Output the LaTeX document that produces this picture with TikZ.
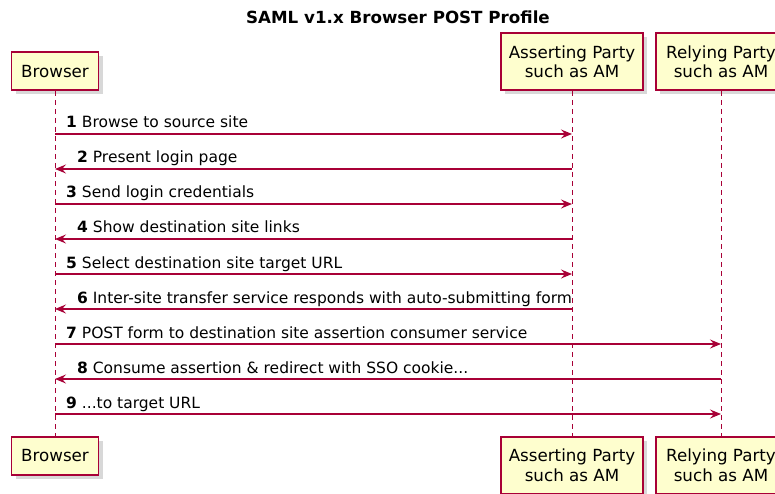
\documentclass[tikz,border=0pt]{standalone}
\usepackage{fontspec}
\setmainfont{DejaVu Sans}
\usetikzlibrary{arrows.meta,shadows}
\definecolor{umlred}{HTML}{A80036}
\definecolor{umlfill}{HTML}{FEFECE}

\begin{document}
\begin{tikzpicture}[x=1pt, y=-1pt,
  party/.style={draw=umlred, line width=1.6pt, fill=umlfill, align=center,
    inner sep=0pt, minimum height=38pt,
    font=\fontsize{16.7}{19.5}\selectfont,
    drop shadow={shadow xshift=4pt, shadow yshift=-4pt, fill=black!30}},
  life/.style={umlred, line width=1pt, dash pattern=on 5pt off 4pt},
  msg/.style={umlred, line width=1.2pt, -{Stealth[length=11pt, width=9pt, inset=4pt]}},
  lbl/.style={anchor=base west, inner sep=0pt, text=black,
    font=\fontsize{15.5}{18}\selectfont}]
  \useasboundingbox (0,0) rectangle (775,494);

  % Title
  \node[font=\bfseries\fontsize{16.7}{20}\selectfont] (title) at (398,17) {SAML v1.x Browser POST Profile};

  % Participants (top)
  \node[party, anchor=south, minimum width=87pt] (brTop) at (55,91) {Browser};
  \node[party, anchor=south, minimum width=142pt, minimum height=57pt] (apTop) at (572,91) {Asserting Party\\such as AM};
  \node[party, anchor=south, minimum width=130pt, minimum height=57pt] (rpTop) at (721,91) {Relying Party\\such as AM};

  % Participants (bottom)
  \node[party, anchor=north, minimum width=87pt] (brBot) at (55,436) {Browser};
  \node[party, anchor=north, minimum width=142pt, minimum height=57pt] (apBot) at (572,436) {Asserting Party\\such as AM};
  \node[party, anchor=north, minimum width=130pt, minimum height=57pt] (rpBot) at (721,436) {Relying Party\\such as AM};

  % Lifelines
  \draw[life] (brTop.south) -- (brBot.north);
  \draw[life] (apTop.south) -- (apBot.north);
  \draw[life] (rpTop.south) -- (rpBot.north);

  % Message rows
  \coordinate (row1) at (0,134);
  \coordinate (row2) at (0,169);
  \coordinate (row3) at (0,204);
  \coordinate (row4) at (0,239);
  \coordinate (row5) at (0,274);
  \coordinate (row6) at (0,309);
  \coordinate (row7) at (0,344);
  \coordinate (row8) at (0,379);
  \coordinate (row9) at (0,414);

  % Messages
  \draw[msg] (brTop |- row1) -- (apTop |- row1);
  \node[lbl] (m1) at ([xshift=11pt, yshift=6pt]brTop |- row1) {\textbf{1} Browse to source site};

  \draw[msg] (apTop |- row2) -- (brTop |- row2);
  \node[lbl] (m2) at ([xshift=22pt, yshift=6pt]brTop |- row2) {\textbf{2} Present login page};

  \draw[msg] (brTop |- row3) -- (apTop |- row3);
  \node[lbl] (m3) at ([xshift=11pt, yshift=6pt]brTop |- row3) {\textbf{3} Send login credentials};

  \draw[msg] (apTop |- row4) -- (brTop |- row4);
  \node[lbl] (m4) at ([xshift=22pt, yshift=6pt]brTop |- row4) {\textbf{4} Show destination site links};

  \draw[msg] (brTop |- row5) -- (apTop |- row5);
  \node[lbl] (m5) at ([xshift=11pt, yshift=6pt]brTop |- row5) {\textbf{5} Select destination site target URL};

  \draw[msg] (apTop |- row6) -- (brTop |- row6);
  \node[lbl] (m6) at ([xshift=22pt, yshift=6pt]brTop |- row6) {\textbf{6} Inter-site transfer service responds with auto-submitting form};

  \draw[msg] (brTop |- row7) -- (rpTop |- row7);
  \node[lbl] (m7) at ([xshift=11pt, yshift=6pt]brTop |- row7) {\textbf{7} POST form to destination site assertion consumer service};

  \draw[msg] (rpTop |- row8) -- (brTop |- row8);
  \node[lbl] (m8) at ([xshift=22pt, yshift=6pt]brTop |- row8) {\textbf{8} Consume assertion \& redirect with SSO cookie...};

  \draw[msg] (brTop |- row9) -- (rpTop |- row9);
  \node[lbl] (m9) at ([xshift=11pt, yshift=6pt]brTop |- row9) {\textbf{9} ...to target URL};
\end{tikzpicture}
\end{document}
